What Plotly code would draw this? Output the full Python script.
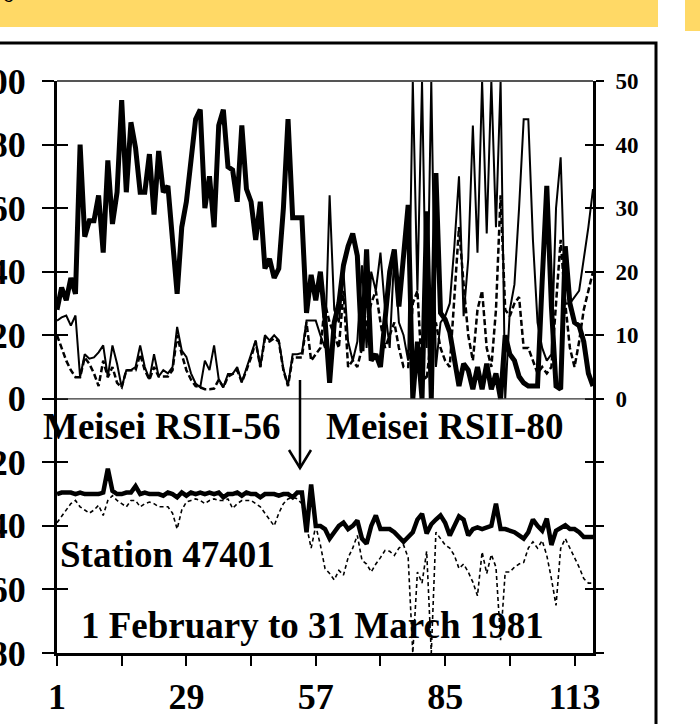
import plotly.graph_objects as go

# observation number (twice daily, 1 Feb - 31 Mar 1981)
obs = list(range(1, 118))

# top panel, thick line (left axis, %)
rh_thick = [28,35,31,38,33,80,51,56,56,64, 46,75,55,65,94,65,87,79,65,65,
            77,58,78,65,67,50,33,54,62,75, 88,91,60,70,54,86,91,73,72,62,
            86,66,62,50,62,41,44,38,41,60, 88,57,57,57,27,39,31,40,25,5,
            24,30,42,48,52,45,15,47,12,14, 10,25,40,47,29,45,61,0,18,0,
            59,0,71,27,25,21,12,4,11,9, 3,10,3,11,3,8,0,20,14,12,
            7,5,4,4,4,37,67,29,4,3, 48,30,24,23,18,8,4]

# top panel, thin solid line (right axis)
dpd_thin = [12.3,12.8,13.1,11.5,13.1,3.4,7,6.3,6.5,7.3, 8.4,3.4,8.4,5.5,1.8,4.5,4.5,5,8.4,5,
            3.1,7,3.5,4.5,4,5,11.3,7.6,6.6,4, 2.4,1.8,6,4.5,8.4,3.1,1.8,3.9,3.9,5,
            2.6,5,7,9.2,5,10,9.2,10,9.2,4.7, 2.1,7,7,7.2,12.3,12.3,12.3,10,8,32,
            14,12,20,9,6,9,21,8,20,17, 23,14,8,23,12,10,6,50,17,50,
            8,50,5,12,13,15,24,35,13,22, 43,23,50,26,50,27,50,0,14,18,
            30,44,44,25,12,8,6,7,30,38, 15,15,16,17,22,27,33]

# top panel, dashed line (right axis)
dpd_dash = [10,8,6,4.5,3.4,3.4,6.5,5.5,4,2, 6,3.4,5,2.5,1.8,4.5,4.5,4.5,7,4.5,
            3,5,3.5,3.5,3.5,4.5,10,7,4.5,3, 2,1.8,1.5,1.5,1.6,3,1.8,3.5,3.9,4.5,
            2.6,4.5,6.5,9,5,9.5,9,9.5,9,4.5, 2,6.5,6.5,6.5,12,6,7,8,15,12,
            10,8,17,5,6,5,8,12,15,17, 12,8,10,12,8,5,5,15,17,4,
            3,10,12,8,6,5,16,27,18,10, 6,14,17,8,5,14,32,14,13,15,
            16,8,8,6,4,5,4,5,15,25, 15,8,5,9,14,17,20]

# lower panel, thick line (left axis)
temp = [-30,-29.5,-29.5,-29.5,-30,-29.5,-30,-30,-30,-30, -29.5,-22,-29,-30,-30,-29.5,-29.5,-27.5,-30,-29.5,
        -30,-30,-30,-30.5,-29.5,-30,-31,-29.5,-30.5,-29.5, -30,-29.5,-30,-29.5,-30,-29.5,-31,-30,-30,-29.5,
        -30.5,-29.5,-30,-30,-31,-30,-30,-30,-30.5,-30, -30,-31,-29.5,-29.5,-42,-27,-40,-40,-41,-44,
        -42,-40,-39,-41,-40,-38.3,-44,-45.6,-40,-36.7, -41,-41,-41,-42,-43.5,-45,-43.5,-42,-38,-36.2,
        -42.4,-39.5,-38,-36.7,-39,-43,-40,-37,-38,-43, -41,-40.5,-41,-40.5,-40,-33,-41,-41,-41.5,-42,
        -43,-44,-42,-38,-40,-41.5,-37.7,-46,-41.5,-40.5, -39.8,-41,-41,-42,-43.5,-43.5,-43.5]

# lower panel, dashed line (left axis)
dew = [-39,-37,-35,-33,-32,-34,-35,-36,-35,-33.5, -36.7,-32,-30.5,-32,-33,-34,-32,-32,-34,-33,
       -32.5,-33,-34,-34,-34,-36,-41,-35,-32.5,-32, -31.5,-32,-33,-32,-31.5,-32,-32,-31.5,-34.5,-33,
       -32,-32,-32,-33,-34,-36,-38,-40,-36,-33, -31.5,-31,-31.5,-33,-40,-47,-40,-46,-53.4,-55,
       -57,-54,-55.5,-50,-47,-43,-50.8,-52,-54.5,-52, -50,-47.7,-48,-49.3,-47,-46,-50,-80,-54.5,-58,
       -48,-80,-42,-44,-46,-47,-49.3,-53.4,-52,-54.5, -57.7,-62,-48.2,-55,-49,-53,-76,-54.5,-54.5,-53,
       -52,-51.5,-47,-45,-47,-44.6,-49.3,-56.6,-65,-47.1, -44,-47,-50,-53,-56.6,-58,-58]

x_tickvals = [1, 15, 29, 43, 57, 71, 85, 99, 113]
x_ticktext = ["1", "", "29", "", "57", "", "85", "", "113"]
left_vals = [-80, -60, -40, -20, 0, 20, 40, 60, 80, 100]
left_text = ["-80", "-60", "-40", "-20", "0", "20", "40", "60", "80", "100"]
right_vals = [-40, -30, -20, -10, 0, 10, 20, 30, 40, 50]
right_text = ["", "", "", "", "0", "10", "20", "30", "40", "50"]

SERIF = "Liberation Serif, Times New Roman, serif"
big = dict(family=SERIF, size=36, color="black", weight="bold")
small = dict(family=SERIF, size=23, color="black", weight="bold")

fig = go.Figure()
# right-axis series (base y)
fig.add_trace(go.Scatter(x=obs, y=dpd_thin, yaxis="y", mode="lines",
                         line=dict(color="black", width=2)))
fig.add_trace(go.Scatter(x=obs, y=dpd_dash, yaxis="y", mode="lines",
                         line=dict(color="black", width=2.5, dash="6px,3px")))
# left-axis series (overlay y2, drawn above)
fig.add_trace(go.Scatter(x=obs, y=dew, yaxis="y2", mode="lines",
                         line=dict(color="black", width=1.6, dash="4px,3px")))
fig.add_trace(go.Scatter(x=obs, y=temp, yaxis="y2", mode="lines",
                         line=dict(color="black", width=4.5)))
fig.add_trace(go.Scatter(x=obs, y=rh_thick, yaxis="y2", mode="lines",
                         line=dict(color="black", width=5)))
# carriers for the inner halves of the crossing ticks
fig.add_trace(go.Scatter(x=[None], y=[None], yaxis="y3", hoverinfo="skip"))
fig.add_trace(go.Scatter(x=[None], y=[None], yaxis="y4", hoverinfo="skip"))

fig.update_layout(
    template="none",
    width=700, height=724,
    margin=dict(l=57, r=107, t=81, b=71, autoexpand=False),
    paper_bgcolor="white", plot_bgcolor="white",
    showlegend=False,
    xaxis=dict(range=[1, 117], tickmode="array", tickvals=x_tickvals, ticktext=x_ticktext,
               ticks="outside", ticklen=10, tickwidth=2, tickcolor="black",
               showline=True, linewidth=3, linecolor="black", automargin=False,
               showgrid=False, zeroline=False, tickfont=big, ticklabelstandoff=0),
    yaxis=dict(range=[-40, 50], side="right", anchor="x", tickmode="array",
               tickvals=right_vals, ticktext=right_text, automargin=False,
               ticks="outside", ticklen=8, tickwidth=2, tickcolor="black",
               showline=True, linewidth=3, linecolor="black",
               showgrid=False, zeroline=False, tickfont=small, ticklabelstandoff=7),
    yaxis2=dict(range=[-80, 100], side="left", overlaying="y", anchor="x", tickmode="array",
                tickvals=left_vals, ticktext=left_text, automargin=False,
                ticks="outside", ticklen=12, tickwidth=2, tickcolor="black",
                showline=True, linewidth=3, linecolor="black",
                showgrid=False, zeroline=False, tickfont=big, ticklabelstandoff=9),
    yaxis3=dict(range=[-80, 100], side="left", overlaying="y", anchor="x", tickmode="array",
                tickvals=left_vals, ticks="inside", ticklen=11, tickwidth=2, tickcolor="black",
                showticklabels=False, showline=False, showgrid=False, zeroline=False,
                automargin=False),
    yaxis4=dict(range=[-40, 50], side="right", overlaying="y", anchor="x", tickmode="array",
                tickvals=right_vals, ticks="inside", ticklen=8, tickwidth=2, tickcolor="black",
                showticklabels=False, showline=False, showgrid=False, zeroline=False,
                automargin=False),
)

def px_x(p):
    return (p - 57) / 536.0

def px_y(p):
    return (653 - p) / 572.0

shapes = [
    # yellow banner pieces
    dict(type="rect", xref="paper", yref="paper", x0=px_x(-10), x1=px_x(658), y0=px_y(27), y1=px_y(-10),
         fillcolor="#FFD966", line=dict(width=0), layer="below"),
    dict(type="rect", xref="paper", yref="paper", x0=px_x(685), x1=px_x(710), y0=px_y(31), y1=px_y(-10),
         fillcolor="#FFD966", line=dict(width=0), layer="below"),
    # outer frame
    dict(type="rect", xref="paper", yref="paper", x0=px_x(-10), x1=px_x(656), y0=px_y(760), y1=px_y(43),
         line=dict(color="black", width=3)),
    # top border of plot
    dict(type="line", xref="paper", yref="paper", x0=0, x1=1, y0=1, y1=1,
         line=dict(color="#555555", width=2)),
    # zero line
    dict(type="line", xref="paper", yref="y2", x0=0, x1=1, y0=0, y1=0,
         line=dict(color="#333333", width=1.2)),
    # arrow
    dict(type="line", xref="paper", yref="paper", x0=px_x(300), x1=px_x(300), y0=px_y(380), y1=px_y(468),
         line=dict(color="black", width=2.5)),
    dict(type="path", xref="paper", yref="paper",
         path=f"M {px_x(289)} {px_y(450)} L {px_x(300)} {px_y(468)} L {px_x(311)} {px_y(450)}",
         line=dict(color="black", width=2.5)),
]
fig.update_layout(shapes=shapes)

lab = dict(family=SERIF, size=37, color="black", weight="bold")
annots = [
    dict(text="Meisei RSII-56", x=px_x(41), y=px_y(426)),
    dict(text="Meisei RSII-80", x=px_x(324), y=px_y(426)),
    dict(text="Station 47401", x=px_x(58), y=px_y(554)),
    dict(text="1 February to 31 March 1981", x=px_x(79), y=px_y(625)),
]
for a in annots:
    fig.add_annotation(xref="paper", yref="paper", xanchor="left", yanchor="middle",
                       showarrow=False, font=lab, **a)
fig.add_annotation(text="o", xref="paper", yref="paper", x=px_x(1), y=px_y(8),
                   xanchor="left", yanchor="bottom", showarrow=False,
                   font=dict(family="Liberation Sans, Arial", size=20, color="black"))

fig.write_html("out.html",
               config={"displayModeBar": False},
               post_script="document.body.style.margin='0';document.body.style.overflow='hidden';")
